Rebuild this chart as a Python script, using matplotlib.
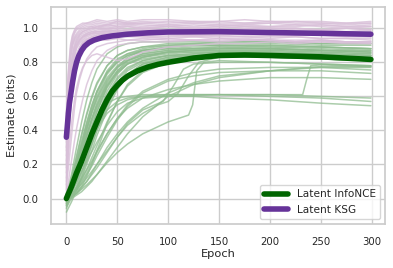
import matplotlib
matplotlib.use("Agg")
import matplotlib.pyplot as plt
import seaborn as sns

sns.set_theme(style="whitegrid")

green_epochs = [0, 5, 10, 15, 20, 25, 30, 40, 50, 60, 75, 100, 125, 150, 200, 250, 299]
green_runs = [
    [0.00, 0.10, 0.22, 0.34, 0.45, 0.55, 0.63, 0.74, 0.80, 0.84, 0.87, 0.89, 0.90, 0.90, 0.90, 0.89, 0.88],
    [-0.02, 0.08, 0.19, 0.30, 0.41, 0.51, 0.59, 0.71, 0.78, 0.82, 0.85, 0.87, 0.88, 0.88, 0.88, 0.87, 0.86],
    [0.01, 0.12, 0.25, 0.38, 0.50, 0.60, 0.68, 0.78, 0.84, 0.87, 0.89, 0.91, 0.91, 0.91, 0.91, 0.90, 0.90],
    [-0.04, 0.05, 0.15, 0.26, 0.37, 0.47, 0.56, 0.69, 0.77, 0.81, 0.84, 0.86, 0.87, 0.87, 0.87, 0.86, 0.85],
    [0.02, 0.09, 0.18, 0.28, 0.38, 0.47, 0.55, 0.67, 0.75, 0.80, 0.83, 0.86, 0.87, 0.88, 0.88, 0.87, 0.86],
    [-0.06, 0.03, 0.12, 0.22, 0.32, 0.42, 0.51, 0.65, 0.74, 0.79, 0.83, 0.85, 0.86, 0.86, 0.86, 0.85, 0.84],
    [0.00, 0.06, 0.14, 0.23, 0.31, 0.39, 0.47, 0.60, 0.70, 0.76, 0.81, 0.84, 0.85, 0.86, 0.86, 0.85, 0.84],
    [0.03, 0.11, 0.21, 0.32, 0.43, 0.53, 0.62, 0.74, 0.81, 0.85, 0.88, 0.90, 0.91, 0.92, 0.92, 0.91, 0.91],
    [-0.03, 0.04, 0.11, 0.19, 0.28, 0.37, 0.46, 0.61, 0.71, 0.77, 0.81, 0.84, 0.85, 0.85, 0.85, 0.84, 0.83],
    [0.01, 0.07, 0.16, 0.26, 0.36, 0.45, 0.53, 0.66, 0.74, 0.79, 0.82, 0.84, 0.84, 0.84, 0.84, 0.83, 0.82],
    [-0.05, 0.00, 0.07, 0.15, 0.24, 0.33, 0.42, 0.57, 0.68, 0.75, 0.80, 0.83, 0.84, 0.85, 0.85, 0.84, 0.83],
    [0.00, 0.02, 0.06, 0.12, 0.20, 0.28, 0.37, 0.52, 0.64, 0.72, 0.78, 0.82, 0.83, 0.84, 0.84, 0.83, 0.82],
    [-0.08, -0.02, 0.05, 0.13, 0.22, 0.31, 0.40, 0.55, 0.66, 0.73, 0.79, 0.82, 0.83, 0.83, 0.83, 0.82, 0.81],
    [0.02, 0.10, 0.20, 0.31, 0.41, 0.50, 0.58, 0.70, 0.77, 0.81, 0.84, 0.86, 0.86, 0.86, 0.86, 0.85, 0.84],
    [0.00, 0.01, 0.03, 0.07, 0.13, 0.20, 0.28, 0.44, 0.57, 0.67, 0.75, 0.80, 0.82, 0.83, 0.83, 0.82, 0.81],
    [-0.01, 0.08, 0.17, 0.27, 0.37, 0.46, 0.54, 0.68, 0.77, 0.83, 0.87, 0.89, 0.90, 0.90, 0.90, 0.89, 0.88],
    [0.02, 0.14, 0.30, 0.45, 0.58, 0.68, 0.76, 0.85, 0.89, 0.91, 0.92, 0.92, 0.92, 0.92, 0.92, 0.91, 0.91],
    [0.00, 0.11, 0.24, 0.37, 0.49, 0.59, 0.67, 0.78, 0.84, 0.87, 0.89, 0.90, 0.90, 0.90, 0.89, 0.89, 0.88],
    [-0.02, 0.06, 0.16, 0.28, 0.40, 0.51, 0.60, 0.73, 0.80, 0.84, 0.86, 0.88, 0.88, 0.88, 0.88, 0.87, 0.87],
    [0.01, 0.09, 0.20, 0.32, 0.44, 0.54, 0.63, 0.75, 0.82, 0.85, 0.87, 0.88, 0.89, 0.89, 0.88, 0.87, 0.86],
    [-0.04, 0.03, 0.10, 0.19, 0.29, 0.39, 0.48, 0.63, 0.73, 0.79, 0.83, 0.86, 0.87, 0.87, 0.87, 0.86, 0.85],
    [0.00, 0.05, 0.13, 0.22, 0.32, 0.42, 0.51, 0.66, 0.75, 0.81, 0.85, 0.87, 0.88, 0.89, 0.89, 0.88, 0.87],
    [0.01, 0.04, 0.09, 0.16, 0.24, 0.32, 0.40, 0.54, 0.65, 0.73, 0.79, 0.83, 0.84, 0.84, 0.84, 0.83, 0.82],
    [-0.01, 0.02, 0.06, 0.11, 0.17, 0.24, 0.31, 0.45, 0.57, 0.66, 0.74, 0.80, 0.82, 0.83, 0.83, 0.82, 0.81],
    [0.00, 0.07, 0.16, 0.25, 0.34, 0.42, 0.48, 0.56, 0.59, 0.60, 0.61, 0.61, 0.61, 0.61, 0.61, 0.60, 0.59],
    [-0.02, 0.04, 0.11, 0.19, 0.27, 0.35, 0.42, 0.52, 0.57, 0.59, 0.60, 0.60, 0.60, 0.59, 0.58, 0.56, 0.545],
    [0.01, 0.05, 0.12, 0.20, 0.28, 0.35, 0.41, 0.50, 0.55, 0.58, 0.60, 0.61, 0.61, 0.61, 0.60, 0.59, 0.57],
    [0.00, 0.02, 0.05, 0.09, 0.14, 0.19, 0.25, 0.36, 0.46, 0.54, 0.62, 0.69, 0.72, 0.74, 0.75, 0.75, 0.735],
    [-0.03, 0.01, 0.05, 0.10, 0.15, 0.21, 0.27, 0.38, 0.47, 0.55, 0.63, 0.70, 0.74, 0.76, 0.77, 0.77, 0.755],
    [0.00, 0.03, 0.07, 0.12, 0.17, 0.22, 0.28, 0.38, 0.47, 0.53, 0.59, 0.64, 0.67, 0.69, 0.71, 0.71, 0.70],
    [0.00, 0.01, 0.03, 0.06, 0.10, 0.15, 0.20, 0.30, 0.38, 0.45, 0.53, 0.62, 0.68, 0.72, 0.75, 0.775, 0.775],
    [0.00, 0.00, 0.02, 0.04, 0.07, 0.10, 0.14, 0.22, 0.30, 0.38, 0.48, 0.60, 0.67, 0.71, 0.75, 0.77, 0.77],
]

# runs with a late jump, each read at its own epochs
jump_epochs = [
    [0, 10, 20, 30, 40, 50, 60, 75, 100, 115, 120, 124, 128, 135, 150, 200, 250, 299],
    [0, 10, 20, 30, 40, 50, 60, 75, 100, 150, 200, 232, 236, 240, 250, 299],
    [0, 10, 20, 30, 40, 50, 60, 75, 90, 100, 110, 120, 130, 150, 200, 250, 299],
    [0, 10, 20, 30, 40, 50, 60, 75, 95, 105, 115, 125, 150, 200, 250, 299],
]
jump_runs = [
    [0.00, 0.03, 0.08, 0.14, 0.21, 0.27, 0.32, 0.38, 0.45, 0.48, 0.49, 0.55, 0.75, 0.80, 0.81, 0.80, 0.79, 0.78],
    [0.00, 0.10, 0.22, 0.33, 0.43, 0.51, 0.56, 0.59, 0.60, 0.61, 0.61, 0.61, 0.70, 0.78, 0.785, 0.775],
    [0.00, 0.05, 0.12, 0.20, 0.28, 0.36, 0.43, 0.50, 0.55, 0.57, 0.62, 0.72, 0.80, 0.83, 0.84, 0.83, 0.82],
    [0.00, 0.04, 0.10, 0.18, 0.27, 0.36, 0.44, 0.52, 0.57, 0.66, 0.76, 0.79, 0.80, 0.80, 0.79, 0.78],
]

purple_epochs = [0, 2, 4, 6, 8, 10, 13, 16, 20, 25, 30, 40, 50, 60, 75, 100, 125, 150, 175, 200, 225, 250, 275, 299]
purple_runs = [
    [0.45, 0.70, 0.85, 0.93, 0.97, 0.99, 1.00, 1.01, 1.02, 1.02, 1.03, 1.02, 1.03, 1.02, 1.03, 1.02, 1.03, 1.02, 1.02, 1.03, 1.02, 1.02, 1.01, 1.02],
    [0.30, 0.52, 0.68, 0.78, 0.84, 0.88, 0.91, 0.93, 0.95, 0.96, 0.97, 0.97, 0.98, 0.97, 0.98, 0.98, 0.97, 0.98, 0.97, 0.97, 0.96, 0.97, 0.96, 0.96],
    [0.05, 0.35, 0.60, 0.76, 0.85, 0.90, 0.93, 0.95, 0.96, 0.97, 0.98, 0.98, 0.99, 0.98, 0.99, 0.99, 0.98, 0.99, 0.98, 0.98, 0.98, 0.97, 0.98, 0.97],
    [0.50, 0.72, 0.84, 0.90, 0.93, 0.95, 0.97, 0.98, 0.99, 1.00, 1.01, 1.02, 1.04, 1.03, 1.03, 1.04, 1.03, 1.04, 1.03, 1.03, 1.04, 1.03, 1.03, 1.03],
    [0.20, 0.40, 0.56, 0.67, 0.75, 0.80, 0.85, 0.88, 0.91, 0.93, 0.94, 0.95, 0.95, 0.96, 0.96, 0.96, 0.95, 0.96, 0.95, 0.95, 0.95, 0.94, 0.94, 0.94],
    [0.35, 0.55, 0.70, 0.80, 0.86, 0.90, 0.93, 0.95, 0.97, 0.98, 0.99, 1.00, 1.00, 1.01, 1.00, 1.01, 1.00, 1.00, 1.01, 1.00, 1.00, 0.99, 1.00, 0.99],
    [0.10, 0.25, 0.38, 0.49, 0.58, 0.65, 0.72, 0.77, 0.81, 0.84, 0.85, 0.83, 0.81, 0.82, 0.86, 0.89, 0.90, 0.91, 0.91, 0.92, 0.91, 0.92, 0.91, 0.91],
    [0.42, 0.60, 0.74, 0.83, 0.89, 0.92, 0.95, 0.96, 0.97, 0.98, 0.98, 0.99, 0.98, 0.99, 0.99, 0.98, 0.99, 0.98, 0.98, 0.99, 0.98, 0.98, 0.97, 0.98],
    [0.15, 0.38, 0.57, 0.70, 0.79, 0.85, 0.89, 0.92, 0.94, 0.95, 0.96, 0.96, 0.97, 0.96, 0.97, 0.97, 0.96, 0.96, 0.97, 0.96, 0.96, 0.96, 0.95, 0.95],
    [0.48, 0.75, 0.90, 0.96, 0.99, 1.01, 1.02, 1.03, 1.03, 1.04, 1.05, 1.04, 1.05, 1.04, 1.05, 1.05, 1.04, 1.04, 1.05, 1.04, 1.04, 1.04, 1.03, 1.04],
    [0.25, 0.45, 0.60, 0.71, 0.79, 0.84, 0.88, 0.91, 0.93, 0.94, 0.95, 0.95, 0.96, 0.95, 0.95, 0.94, 0.95, 0.94, 0.94, 0.93, 0.93, 0.93, 0.92, 0.92],
    [0.38, 0.58, 0.73, 0.83, 0.89, 0.93, 0.96, 0.98, 0.99, 1.00, 1.01, 1.00, 1.01, 1.01, 1.00, 1.01, 1.00, 1.01, 1.00, 1.00, 1.00, 0.99, 1.00, 0.99],
    [0.08, 0.18, 0.30, 0.42, 0.53, 0.62, 0.70, 0.76, 0.82, 0.86, 0.89, 0.91, 0.92, 0.93, 0.93, 0.94, 0.93, 0.93, 0.93, 0.93, 0.92, 0.92, 0.92, 0.91],
    [0.28, 0.50, 0.66, 0.77, 0.84, 0.89, 0.92, 0.94, 0.96, 0.97, 0.98, 0.98, 0.99, 0.98, 0.98, 0.99, 0.98, 0.98, 0.98, 0.97, 0.97, 0.97, 0.96, 0.96],
    [0.02, 0.10, 0.18, 0.26, 0.34, 0.41, 0.50, 0.58, 0.67, 0.75, 0.81, 0.87, 0.90, 0.91, 0.92, 0.92, 0.93, 0.92, 0.93, 0.93, 0.92, 0.93, 0.92, 0.92],
    [0.40, 0.66, 0.82, 0.90, 0.94, 0.96, 0.98, 0.99, 1.00, 1.01, 1.00, 1.02, 1.01, 1.02, 1.01, 1.02, 1.01, 1.02, 1.01, 1.01, 1.02, 1.01, 1.00, 1.01],
    [0.33, 0.56, 0.72, 0.82, 0.88, 0.91, 0.94, 0.95, 0.96, 0.97, 0.97, 0.98, 0.97, 0.98, 0.97, 0.98, 0.97, 0.97, 0.98, 0.97, 0.97, 0.96, 0.97, 0.96],
    [0.12, 0.33, 0.52, 0.66, 0.76, 0.83, 0.88, 0.91, 0.93, 0.95, 0.96, 0.97, 0.96, 0.97, 0.96, 0.97, 0.96, 0.97, 0.96, 0.96, 0.97, 0.96, 0.96, 0.95],
    [0.44, 0.68, 0.83, 0.91, 0.95, 0.97, 0.99, 1.00, 1.01, 1.01, 1.02, 1.01, 1.02, 1.03, 1.02, 1.01, 1.02, 1.01, 1.02, 1.01, 1.01, 1.02, 1.01, 1.01],
    [0.22, 0.42, 0.58, 0.70, 0.78, 0.84, 0.88, 0.91, 0.93, 0.94, 0.95, 0.96, 0.95, 0.96, 0.95, 0.95, 0.96, 0.95, 0.95, 0.94, 0.95, 0.94, 0.94, 0.93],
    [0.36, 0.60, 0.76, 0.86, 0.91, 0.94, 0.96, 0.97, 0.98, 0.99, 1.00, 0.99, 1.00, 0.99, 1.00, 0.99, 1.00, 0.99, 0.99, 1.00, 0.99, 0.99, 0.98, 0.99],
    [0.18, 0.36, 0.52, 0.65, 0.74, 0.80, 0.85, 0.88, 0.90, 0.92, 0.93, 0.93, 0.94, 0.93, 0.94, 0.93, 0.93, 0.94, 0.93, 0.93, 0.92, 0.93, 0.92, 0.92],
    [0.46, 0.73, 0.88, 0.95, 0.98, 1.00, 1.01, 1.02, 1.03, 1.03, 1.04, 1.03, 1.04, 1.03, 1.04, 1.03, 1.04, 1.03, 1.03, 1.04, 1.03, 1.03, 1.02, 1.03],
]

# mean curves
infonce_epochs = [0, 5, 10, 15, 20, 25, 30, 35, 40, 45, 50, 55, 60, 70, 80, 90, 100, 125, 150, 175, 200, 250, 299]
infonce_mean = [0.00, 0.07, 0.15, 0.22, 0.30, 0.38, 0.45, 0.52, 0.58, 0.63, 0.665, 0.695, 0.718, 0.75, 0.772, 0.788, 0.80, 0.825, 0.84, 0.843, 0.84, 0.832, 0.817]
ksg_epochs = [0, 1, 2, 3, 4, 5, 6, 8, 10, 12, 15, 18, 22, 27, 35, 45, 60, 80, 100, 150, 200, 250, 299]
ksg_mean = [0.36, 0.43, 0.50, 0.56, 0.60, 0.64, 0.68, 0.75, 0.80, 0.835, 0.87, 0.895, 0.915, 0.93, 0.945, 0.955, 0.965, 0.973, 0.978, 0.98, 0.975, 0.97, 0.965]

fig, ax = plt.subplots(figsize=(3.93, 2.68), dpi=100)
fig.subplots_adjust(left=0.13, right=0.98, top=0.974, bottom=0.164)

for run in green_runs:
    ax.plot(green_epochs, run, color="darkseagreen", alpha=0.75, lw=1.1)
for ep, run in zip(jump_epochs, jump_runs):
    ax.plot(ep, run, color="darkseagreen", alpha=0.75, lw=1.1)
for run in purple_runs:
    ax.plot(purple_epochs, run, color="thistle", alpha=0.8, lw=1.1)

ax.plot(infonce_epochs, infonce_mean, color="darkgreen", lw=4,
        solid_capstyle="round", label="Latent InfoNCE")
ax.plot(ksg_epochs, ksg_mean, color="rebeccapurple", lw=4,
        solid_capstyle="round", label="Latent KSG")

ax.set_xlim(-15, 313)
ax.set_ylim(-0.15, 1.125)
ax.set_xlabel("Epoch", fontsize=8.2, labelpad=2)
ax.set_ylabel("Estimate (bits)", fontsize=8.2, labelpad=4)
ax.tick_params(labelsize=7.3, pad=3)
ax.legend(loc="lower right", fontsize=7.6, handlelength=2.3)

fig.savefig("out.png", dpi=100)
